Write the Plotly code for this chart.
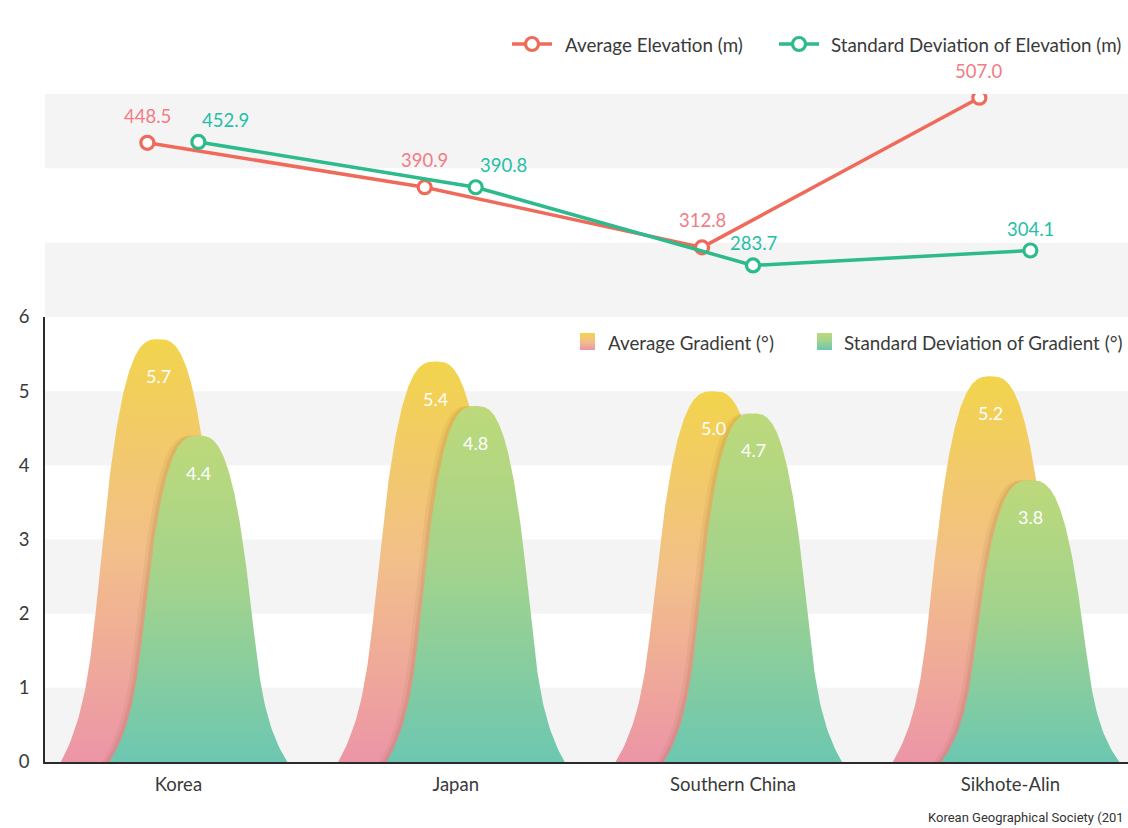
import numpy as np
import plotly.graph_objects as go

# ---- data ----
regions = ["Korea", "Japan", "Southern China", "Sikhote-Alin"]
avg_elevation = [448.5, 390.9, 312.8, 507.0]
std_elevation = [452.9, 390.8, 283.7, 304.1]
avg_gradient = [5.7, 5.4, 5.0, 5.2]
std_gradient = [4.4, 4.8, 4.7, 3.8]
gradient_ticks = [0, 1, 2, 3, 4, 5, 6]

# ---- styling ----
FONT = "Lato, Noto Sans, sans-serif"
TEXT = "#3a3a3a"
RED = "#EF6A5A"
GREEN = "#2DBA8C"
RED_LABEL = "#F27C86"
GREEN_LABEL = "#26BFA6"
BAND = "#F4F4F4"
AVG_SCALE = [[0, "#EC95A7"], [0.5, "#F2BF8A"], [1, "#F2D44C"]]
STD_SCALE = [[0, "#6CC7B1"], [0.55, "#A3D38C"], [1, "#BDD97A"]]

W, H = 1128, 828
idx = np.arange(len(regions))
BAR_OFF = 0.072        # half distance between the two bells of a region
AVG_HW, STD_HW = 0.352, 0.321   # half base width of the bells
LINE_OFF_AVG, LINE_OFF_STD = -0.112, 0.072


def bell_outline(center, half_width, height, n=160):
    """Closed outline of a dome-topped bell that flares out at its base."""
    s = np.linspace(0, 1, n) ** 2          # depth below the top, 0..1
    w = 0.74 * s ** 0.35 + 0.26 * s ** 8   # normalised half width at that depth
    w = w / w[-1]
    xs = np.concatenate([center - half_width * w[::-1], center + half_width * w[1:]])
    ys = np.concatenate([height * (1 - s[::-1]), height * (1 - s[1:])])
    return xs, ys


fig = go.Figure()

annotations = []
for i, (a, s) in enumerate(zip(avg_gradient, std_gradient)):
    ca, cs = i - BAR_OFF, i + BAR_OFF
    # average gradient bell
    bx, by = bell_outline(ca, AVG_HW, a)
    fig.add_trace(go.Scatter(
        x=bx, y=by, mode="lines", fill="toself",
        line=dict(width=0), fillgradient=dict(type="vertical", colorscale=AVG_SCALE),
        hoverinfo="skip", showlegend=False, xaxis="x", yaxis="y"))
    # soft shadow cast by the standard deviation bell
    for shift, alpha in [(0.026, 0.08), (0.014, 0.12)]:
        bx, by = bell_outline(cs - shift, STD_HW, s)
        fig.add_trace(go.Scatter(
            x=bx, y=by, mode="lines", fill="toself",
            line=dict(width=0), fillcolor=f"rgba(140,90,40,{alpha})",
            hoverinfo="skip", showlegend=False, xaxis="x", yaxis="y"))
    # standard deviation bell
    bx, by = bell_outline(cs, STD_HW, s)
    fig.add_trace(go.Scatter(
        x=bx, y=by, mode="lines", fill="toself",
        line=dict(width=0), fillgradient=dict(type="vertical", colorscale=STD_SCALE),
        hoverinfo="skip", showlegend=False, xaxis="x", yaxis="y"))
    for cx, v in [(ca, a), (cs, s)]:
        annotations.append(dict(x=cx, y=v, xref="x", yref="y", text=f"{v:.1f}",
                                showarrow=False, yshift=-37,
                                font=dict(family=FONT, size=18, color="white")))

# elevation lines
fig.add_trace(go.Scatter(
    x=idx + LINE_OFF_AVG, y=avg_elevation, mode="lines+markers",
    line=dict(color=RED, width=3.5),
    marker=dict(symbol="circle", size=13, color="white", line=dict(color=RED, width=3.2)),
    showlegend=False, xaxis="x2", yaxis="y2"))
fig.add_trace(go.Scatter(
    x=idx + LINE_OFF_STD, y=std_elevation, mode="lines+markers",
    line=dict(color=GREEN, width=3.5),
    marker=dict(symbol="circle", size=13, color="white", line=dict(color=GREEN, width=3.2)),
    showlegend=False, xaxis="x2", yaxis="y4"))

for i, v in enumerate(avg_elevation):
    annotations.append(dict(x=i + LINE_OFF_AVG, y=v, xref="x2", yref="y2",
                            text=f"{v:.1f}", showarrow=False, yshift=27,
                            font=dict(family=FONT, size=18.5, color=RED_LABEL)))
std_anchor = ["left", "left", "center", "center"]
for i, v in enumerate(std_elevation):
    annotations.append(dict(x=i + LINE_OFF_STD, y=v, xref="x2", yref="y4",
                            text=f"{v:.1f}", showarrow=False, yshift=22,
                            xanchor=std_anchor[i], xshift=2 if std_anchor[i] == "left" else 0,
                            font=dict(family=FONT, size=18.5, color=GREEN_LABEL)))

# ---- legends drawn on a full-page overlay axis (pixel units) ----
for (x0, x1, col) in [(512, 552, RED), (779, 819, GREEN)]:
    fig.add_trace(go.Scatter(x=[x0, x1], y=[44, 44], mode="lines",
                             line=dict(color=col, width=3.5), hoverinfo="skip",
                             showlegend=False, xaxis="x3", yaxis="y3"))
    fig.add_trace(go.Scatter(x=[(x0 + x1) / 2], y=[44], mode="markers",
                             marker=dict(symbol="circle", size=13, color="white",
                                         line=dict(color=col, width=3.2)),
                             hoverinfo="skip", showlegend=False, xaxis="x3", yaxis="y3"))
for (x0, scale) in [(580, AVG_SCALE), (817, STD_SCALE)]:
    fig.add_trace(go.Scatter(x=[x0, x0 + 15, x0 + 15, x0, x0], y=[333, 333, 350, 350, 333],
                             mode="lines", fill="toself", line=dict(width=0),
                             fillgradient=dict(type="vertical", colorscale=scale, start=350, stop=333),
                             hoverinfo="skip", showlegend=False, xaxis="x3", yaxis="y3"))

legend_font = dict(family=FONT, size=18.8, color=TEXT)
for (x, y, t) in [(563, 44, "Average Elevation (m)"),
                  (829, 44, "Standard Deviation of Elevation (m)"),
                  (606, 342, "Average Gradient (°)"),
                  (842, 342, "Standard Deviation of Gradient (°)")]:
    annotations.append(dict(x=x, y=y, xref="x3", yref="y3", text=t, showarrow=False,
                            xanchor="left", yanchor="middle", font=legend_font))
annotations.append(dict(x=25, y=290, xref="x3", yref="y3", text="(°)", showarrow=False,
                        xanchor="center", yanchor="middle",
                        font=dict(family=FONT, size=16, color="#555")))
annotations.append(dict(x=1126, y=817, xref="x3", yref="y3",
                        text="Korean Geographical Society (201", showarrow=False,
                        xanchor="right", yanchor="middle",
                        font=dict(family="Liberation Sans Narrow, Roboto, sans-serif",
                                  size=13, color="#333")))

# ---- background bands ----
shapes = []
for lo in [0, 2, 4]:
    shapes.append(dict(type="rect", xref="x domain", yref="y", x0=0, x1=1, y0=lo, y1=lo + 1,
                       fillcolor=BAND, line=dict(width=0), layer="below"))
for lo in [0, 2 / 3]:
    shapes.append(dict(type="rect", xref="x domain", yref="y2 domain", x0=0, x1=1,
                       y0=lo, y1=lo + 1 / 3, fillcolor=BAND, line=dict(width=0), layer="below"))

bottom_dom = [(H - 762) / H, (H - 317) / H]
top_dom = [(H - 317) / H, (H - 94) / H]
x_range = [-0.481, 3.424]

fig.update_layout(
    width=W, height=H,
    margin=dict(l=45, r=0, t=0, b=0),
    paper_bgcolor="white", plot_bgcolor="rgba(0,0,0,0)",
    showlegend=False,
    font=dict(family=FONT, color=TEXT),
    xaxis=dict(domain=[0, 1], range=x_range, anchor="y", tickmode="array",
               tickvals=list(idx), ticktext=regions, showgrid=False, zeroline=False,
               showline=True, linecolor="#2b2b2b", linewidth=1.5, ticks="",
               tickfont=dict(family=FONT, size=18.5, color=TEXT), ticklabelstandoff=5,
               fixedrange=True, automargin=False),
    yaxis=dict(domain=bottom_dom, range=[0, 6], anchor="x", tickmode="array",
               tickvals=gradient_ticks, showgrid=False, zeroline=False,
               showline=True, linecolor="#2b2b2b", linewidth=1.5, ticks="",
               tickfont=dict(family=FONT, size=18.5, color=TEXT), ticklabelstandoff=10,
               fixedrange=True, automargin=False),
    xaxis2=dict(domain=[0, 1], range=x_range, anchor="y2", visible=False, fixedrange=True),
    yaxis2=dict(domain=top_dom, range=[222.5, 511.8], anchor="x2", visible=False, fixedrange=True),
    yaxis4=dict(domain=top_dom, range=[213.0, 518.6], anchor="x2", overlaying="y2",
                visible=False, fixedrange=True),
    xaxis3=dict(domain=[0, 1], range=[45, W], anchor="y3", visible=False, fixedrange=True),
    yaxis3=dict(domain=[0, 1], range=[H, 0], anchor="x3", visible=False, fixedrange=True),
    shapes=shapes,
    annotations=annotations,
)

fig.write_html("out.html")
